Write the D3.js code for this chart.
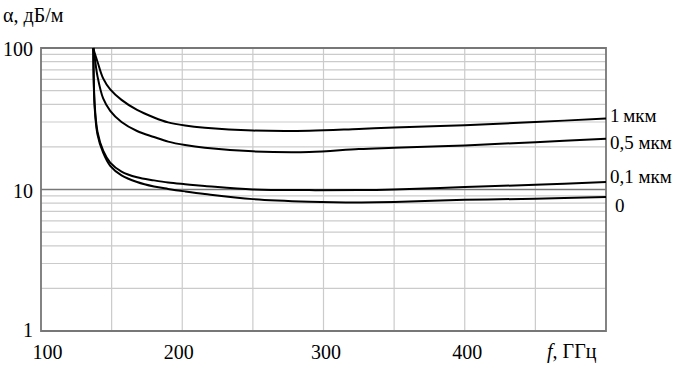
<!DOCTYPE html>
<html>
<head>
<meta charset="utf-8">
<script src="https://cdn.jsdelivr.net/npm/d3@7"></script>
<style>
  body { margin: 0; background: #fff; }
  svg text { font-family: "Liberation Serif", "Times New Roman", serif; fill: #000; }
</style>
</head>
<body>
<div id="chart"></div>
<script>
// frequency points, GHz
var freq = [137, 138, 140, 144, 149, 157, 168, 180, 190, 202, 216, 250, 290, 325, 350, 400, 450, 500];

// attenuation, dB/m, one array per roughness
var alpha1um  = [100, 92, 80, 61, 51, 43, 36.5, 32.3, 29.8, 28.3, 27.3, 26.1, 26.0, 26.8, 27.4, 28.5, 30.0, 31.7];
var alpha05um = [100, 86, 63, 44, 36, 30, 25.9, 23.5, 21.8, 20.6, 19.7, 18.6, 18.4, 19.3, 19.7, 20.5, 21.6, 22.8];
var alpha01um = [100, 40, 25.5, 18.8, 15.5, 13.4, 12.2, 11.6, 11.2, 10.9, 10.6, 10.0, 9.9, 9.9, 10.0, 10.4, 10.8, 11.3];
var alpha0    = [100, 38, 24.5, 18.2, 14.7, 12.6, 11.3, 10.5, 10.1, 9.7, 9.3, 8.55, 8.2, 8.1, 8.15, 8.45, 8.6, 8.85];

var seriesNames = ["1\u202Fмкм", "0,5 мкм", "0,1 мкм", "0"];
var seriesData = [alpha1um, alpha05um, alpha01um, alpha0];
var labelY = [122, 149, 183, 212];
var labelX = [610, 610, 610, 615];

var xTicks = [100, 200, 300, 400];
var yTicks = [1, 10, 100];

var svgWidth = 687;
var svgHeight = 367;

var margin = { top: 48, bottom: 36, right: 81, left: 41 };
var width = svgWidth - margin.left - margin.right;
var height = svgHeight - margin.top - margin.bottom;

var svg = d3.select("#chart")
  .append("svg")
  .attr("width", svgWidth)
  .attr("height", svgHeight);

var chartGroup = svg.append("g")
  .attr("transform", `translate(${margin.left}, ${margin.top})`);

var x = d3.scaleLinear().domain([100, 500]).range([0, width]);
var y = d3.scaleLog().domain([1, 100]).range([height, 0]);

// vertical grid every 50 GHz
chartGroup.append("g")
  .selectAll("line")
  .data(d3.range(150, 500, 50))
  .enter()
  .append("line")
  .attr("x1", d => x(d)).attr("x2", d => x(d))
  .attr("y1", 0).attr("y2", height)
  .attr("stroke", "#cbcbcb")
  .attr("stroke-width", 1.2);

// horizontal grid at minor log ticks
var minor = [];
[1, 10].forEach(function(dec) {
  for (var k = 2; k <= 9; k++) minor.push(dec * k);
});
chartGroup.append("g")
  .selectAll("line")
  .data(minor)
  .enter()
  .append("line")
  .attr("x1", 0).attr("x2", width)
  .attr("y1", d => y(d)).attr("y2", d => y(d))
  .attr("stroke", "#cbcbcb")
  .attr("stroke-width", 1.2);

// major line at 10
chartGroup.append("line")
  .attr("x1", 0).attr("x2", width)
  .attr("y1", y(10)).attr("y2", y(10))
  .attr("stroke", "#777")
  .attr("stroke-width", 1.5);

// frame
chartGroup.append("path")
  .attr("d", `M0,0H${width}V${height}H0Z`)
  .attr("fill", "none")
  .attr("stroke", "#777")
  .attr("stroke-width", 1.8);

// axes (labels only)
var xAxis = d3.axisBottom(x).tickValues(xTicks).tickSize(0).tickFormat(d3.format("d"));
var gx = chartGroup.append("g")
  .attr("transform", `translate(0, ${height})`)
  .call(xAxis);
gx.select(".domain").remove();
gx.selectAll("text")
  .attr("y", 14)
  .attr("dy", "0.71em")
  .style("font-size", "20px")
  .style("font-family", "Liberation Serif, serif")
  .attr("fill", "#000")
  .attr("dx", d => d === 100 ? 6 : (d === 200 ? -4 : 2));

var yAxis = d3.axisLeft(y).tickValues(yTicks).tickSize(0).tickFormat(d3.format("d"));
var gy = chartGroup.append("g").call(yAxis);
gy.select(".domain").remove();
gy.selectAll("text")
  .attr("x", -8)
  .attr("dy", d => d === 1 ? "0.25em" : "0.38em")
  .style("font-size", "20px")
  .style("font-family", "Liberation Serif, serif")
  .attr("fill", "#000");

// curves
var line = d3.line()
  .x((d, i) => x(freq[i]))
  .y(d => y(d))
  .curve(d3.curveCatmullRom.alpha(0.5));

chartGroup.selectAll(".curve")
  .data(seriesData)
  .enter()
  .append("path")
  .attr("class", "curve")
  .attr("d", d => line(d))
  .attr("fill", "none")
  .attr("stroke", "#000")
  .attr("stroke-width", 2);

// series labels
svg.selectAll(".slabel")
  .data(seriesNames)
  .enter()
  .append("text")
  .attr("class", "slabel")
  .attr("x", (d, i) => labelX[i])
  .attr("y", (d, i) => labelY[i])
  .style("font-size", "19px")
  .text(d => d);

// axis titles
svg.append("text")
  .attr("x", 3)
  .attr("y", 22)
  .style("font-size", "20px")
  .text("α, дБ/м");

var xt = svg.append("text")
  .attr("x", 547)
  .attr("y", 358)
  .style("font-size", "20px");
xt.append("tspan").style("font-style", "italic").text("f");
xt.append("tspan").text(", ГГц");
</script>
</body>
</html>
